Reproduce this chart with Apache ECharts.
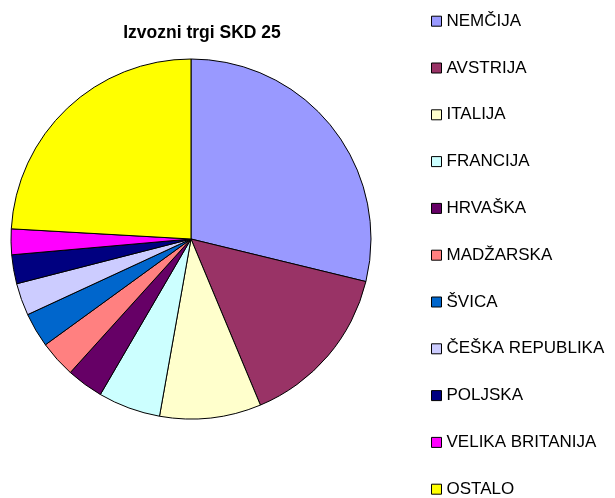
<!DOCTYPE html>
<html><head><meta charset="utf-8">
<script src="https://cdn.jsdelivr.net/npm/echarts@6/dist/echarts.min.js"></script>
<style>html,body{margin:0;padding:0;background:#fff;}#c{width:615px;height:498px;}</style>
</head><body><div id="c"></div>
<script>
const categories = ["NEMČIJA","AVSTRIJA","ITALIJA","FRANCIJA","HRVAŠKA","MADŽARSKA","ŠVICA","ČEŠKA REPUBLIKA","POLJSKA","VELIKA BRITANIJA","OSTALO"];
const values = [28.8,14.9,9.1,5.6,3.3,3.3,3.1,2.9,2.6,2.3,24.1];
const colors = ["#9999FF","#993366","#FFFFCC","#CCFFFF","#660066","#FF8080","#0066CC","#CCCCFF","#000080","#FF00FF","#FFFF00"];
const title = "Izvozni trgi SKD 25";

const legendStep = 46.8, legendFirstCenter = 20.7, legendRowH = 16;
const legends = categories.map((n,i)=>({
  orient:'vertical',left:431,top:legendFirstCenter + i*legendStep - legendRowH/2,padding:0,
  itemWidth:10,itemHeight:10,icon:'rect',
  textStyle:{fontFamily:'Liberation Sans',fontSize:17,color:'#000',lineHeight:legendRowH,height:legendRowH,padding:[0,0,0,0]},
  itemStyle:{borderColor:'#000',borderWidth:1},
  data:[n]
}));

const chart = echarts.init(document.getElementById('c'));
chart.setOption({
  animation:false,
  title:{text:title,left:202,textAlign:'center',top:24,padding:0,textStyle:{fontFamily:'Liberation Sans',fontSize:17.5,fontWeight:'bold',color:'#000'}},
  legend:legends,
  series:[{type:'pie',center:[191,239],radius:180,startAngle:90,clockwise:true,
    label:{show:false},labelLine:{show:false},emphasis:{disabled:true},
    itemStyle:{borderColor:'#000',borderWidth:1},
    data:categories.map((n,i)=>({name:n,value:values[i],itemStyle:{color:colors[i]}}))}]
});
</script></body></html>
